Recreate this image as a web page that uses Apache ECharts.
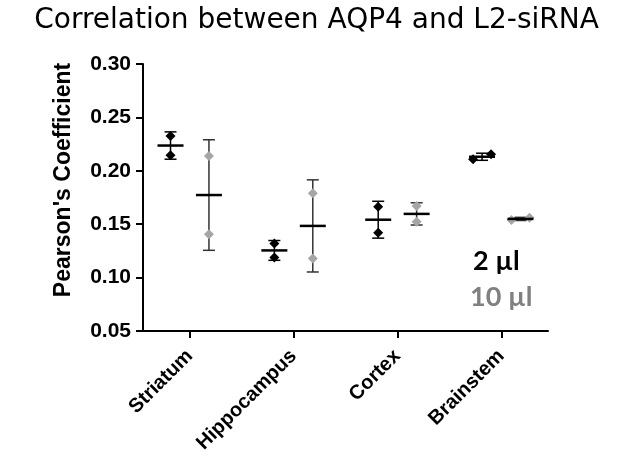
<!DOCTYPE html>
<html>
<head>
<meta charset="utf-8">
<script src="https://cdn.jsdelivr.net/npm/echarts@6/dist/echarts.min.js"></script>
<style>
  html, body { margin: 0; padding: 0; background: #fff; }
  #chart { width: 633px; height: 472px; }
</style>
</head>
<body>
<div id="chart"></div>
<script>
// regions and the two replicate values per group
var categories = ['Striatum', 'Hippocampus', 'Cortex', 'Brainstem'];
var dose2 = [[0.2327, 0.2146], [0.1320, 0.1189], [0.1664, 0.1420], [0.2108, 0.2155]];
var dose10 = [[0.2139, 0.1407], [0.1789, 0.1179], [0.1670, 0.1523], [0.1539, 0.1560]];
var yTicks = [0.05, 0.10, 0.15, 0.20, 0.25, 0.30];

function meanSd(a, b) {
    var m = (a + b) / 2;
    var sd = Math.sqrt(((a - m) * (a - m) + (b - m) * (b - m)) / 1);
    return [m, sd];
}

function diamond(x, y, r, color) {
    return {
        type: 'polygon',
        shape: { points: [[x, y - r], [x + r, y], [x, y + r], [x - r, y]] },
        style: { fill: color }
    };
}

function groupSeries(name, values, dx, ptColor, barColor) {
    return {
        type: 'custom',
        name: name,
        data: values.map(function (v, i) { return [i + 1, v[0], v[1]]; }),
        renderItem: function (params, api) {
            var x = api.value(0), a = api.value(1), b = api.value(2);
            var ms = meanSd(a, b);
            var c = api.coord([x + dx, ms[0]]);
            var top = api.coord([x + dx, ms[0] + ms[1]])[1];
            var bot = api.coord([x + dx, ms[0] - ms[1]])[1];
            var ya = api.coord([x, a])[1], yb = api.coord([x, b])[1];
            var xa = c[0], xb = c[0];
            // points too close together get spread sideways
            if (Math.abs(ya - yb) < 10) { xa = c[0] - 9; xb = c[0] + 9; }
            var ln = { stroke: barColor, lineWidth: 1.5 };
            return {
                type: 'group',
                children: [
                    { type: 'line', shape: { x1: c[0], y1: top, x2: c[0], y2: bot }, style: ln },
                    { type: 'line', shape: { x1: c[0] - 6, y1: top, x2: c[0] + 6, y2: top }, style: ln },
                    { type: 'line', shape: { x1: c[0] - 6, y1: bot, x2: c[0] + 6, y2: bot }, style: ln },
                    diamond(xa, ya, 5, ptColor),
                    diamond(xb, yb, 5, ptColor),
                    { type: 'line', shape: { x1: c[0] - 13, y1: c[1], x2: c[0] + 13, y2: c[1] },
                      style: { stroke: '#000', lineWidth: 2.5 } }
                ]
            };
        }
    };
}

var myChart = echarts.init(document.getElementById('chart'));
var option = {
    animation: false,
    title: {
        text: 'Correlation between AQP4 and L2-siRNA',
        left: 'center',
        top: 2,
        textStyle: { fontFamily: 'DejaVu Sans', fontWeight: 'normal', fontSize: 28, color: '#000' }
    },
    grid: { left: 143, top: 64, width: 405, height: 267 },
    xAxis: {
        type: 'value',
        min: 0.55,
        max: 4.45,
        splitLine: { show: false },
        axisLine: { lineStyle: { color: '#000', width: 2 } },
        axisTick: { customValues: [1, 2, 3, 4], length: 7, lineStyle: { color: '#000', width: 2 } },
        axisLabel: {
            customValues: [1, 2, 3, 4],
            rotate: 45,
            margin: 22,
            color: '#000',
            fontFamily: 'Liberation Sans',
            fontWeight: 'bold',
            fontSize: 20,
            formatter: function (v) { return categories[Math.round(v) - 1]; }
        }
    },
    yAxis: {
        type: 'value',
        min: yTicks[0],
        max: yTicks[yTicks.length - 1],
        interval: 0.05,
        splitLine: { show: false },
        axisLine: { show: true, lineStyle: { color: '#000', width: 2 } },
        axisTick: { show: true, length: 7, lineStyle: { color: '#000', width: 2 } },
        axisLabel: {
            color: '#000',
            fontFamily: 'Liberation Sans',
            fontWeight: 'bold',
            fontSize: 21,
            margin: 12,
            formatter: function (v) { return v.toFixed(2); }
        }
    },
    graphic: [
        { type: 'text', x: 64, y: 180, rotation: Math.PI / 2,
          style: { text: "Pearson's Coefficient", fill: '#000', font: 'bold 23px "Liberation Sans"',
                   textAlign: 'center', textVerticalAlign: 'middle' } },
        { type: 'text', left: 473, top: 248,
          style: { text: '2 µl', fill: '#000', font: 'bold 27px Lato' } },
        { type: 'text', left: 470, top: 284,
          style: { text: '10 µl', fill: '#808080', font: 'bold 27px Lato' } }
    ],
    series: [
        groupSeries('2 µl', dose2, -0.185, '#000', '#000'),
        groupSeries('10 µl', dose10, 0.185, '#a6a6a6', '#333')
    ]
};
myChart.setOption(option);
</script>
</body>
</html>
